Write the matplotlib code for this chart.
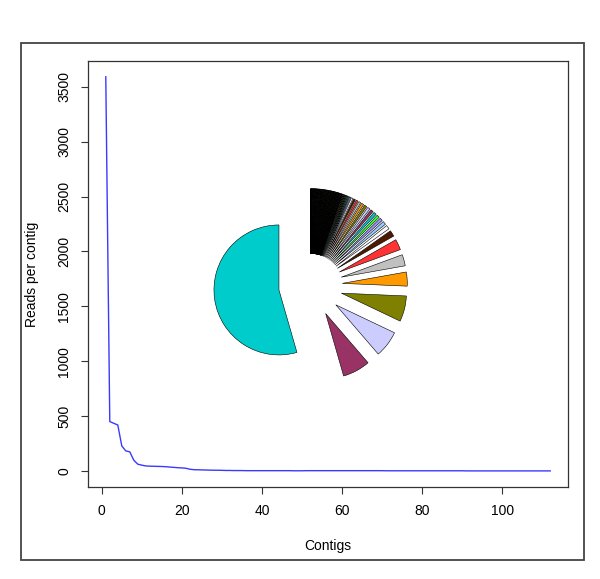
import matplotlib.pyplot as plt
from matplotlib.patches import Rectangle

plt.rcParams['font.family'] = ['Liberation Sans', 'DejaVu Sans']

# reads per contig, sorted descending
reads = [3590, 452, 436, 421, 230, 185, 176, 100, 64, 55,
         48, 46, 45, 44, 43, 41, 38, 35, 32, 30,
         27, 18, 14, 13, 12, 11, 10, 9, 9, 8,
         7, 7, 6, 6, 6, 5, 5, 5, 5, 5,
         5, 5, 5, 5, 5, 5, 5, 4, 4, 4] + [5] * 20 + [4] * 20 + [3] * 22
contigs = list(range(1, len(reads) + 1))

xticks = [0, 20, 40, 60, 80, 100]
yticks = [0, 500, 1000, 1500, 2000, 2500, 3000, 3500]

palette = ["#00CCCC", "#993366", "#CCCCFF", "#808000", "#FF9900", "#C0C0C0",
           "#FF3333", "#4D1A00", "#FFFFFF", "#99CCFF", "#9999FF", "#33FF33"]

W, H = 600, 579
fig = plt.figure(figsize=(W / 100, H / 100), dpi=100)

# outer frame
fig.patches.append(Rectangle((21 / W, 1 - 560 / H), (584 - 21) / W, (560 - 43) / H,
                             transform=fig.transFigure, fill=False,
                             edgecolor='#444444', lw=1.3))

ax = fig.add_axes([88 / W, 1 - 487 / H, (568 - 88) / W, (487 - 61) / H])
ax.plot(contigs, reads, color='#3a3aff', lw=1.0)
ax.set_xlim(1 - 0.04 * 111, 112 + 0.04 * 111)
ax.set_ylim(-0.04 * 3590, 3590 * 1.04)
ax.set_xticks(xticks)
ax.set_yticks(yticks)
ax.tick_params(length=5, width=0.8, color='#333333', labelsize=10, pad=7)
for lbl in ax.get_yticklabels():
    lbl.set_rotation(90)
    lbl.set_va('center')
for s in ax.spines.values():
    s.set_color('#333333')
    s.set_linewidth(0.9)

fig.text(328 / W, 1 - 546 / H, 'Contigs', ha='center', va='center', fontsize=10)
fig.text(32 / W, 1 - 274 / H, 'Reads per contig', ha='center', va='center',
         rotation=90, fontsize=10)

# exploded pie inset
cx, cy, half = 310.5, 285.5, 130
pax = fig.add_axes([(cx - half) / W, 1 - (cy + half) / H, 2 * half / W, 2 * half / H])
colors = [palette[i % len(palette)] for i in range(len(reads))]
pax.pie(reads, colors=colors, explode=[0.49] * len(reads), startangle=90,
        radius=1, wedgeprops=dict(edgecolor='#000000', linewidth=0.4))
pax.set_xlim(-2, 2)
pax.set_ylim(-2, 2)
pax.set_aspect('auto')
pax.axis('off')

fig.savefig('out.png', dpi=100)
